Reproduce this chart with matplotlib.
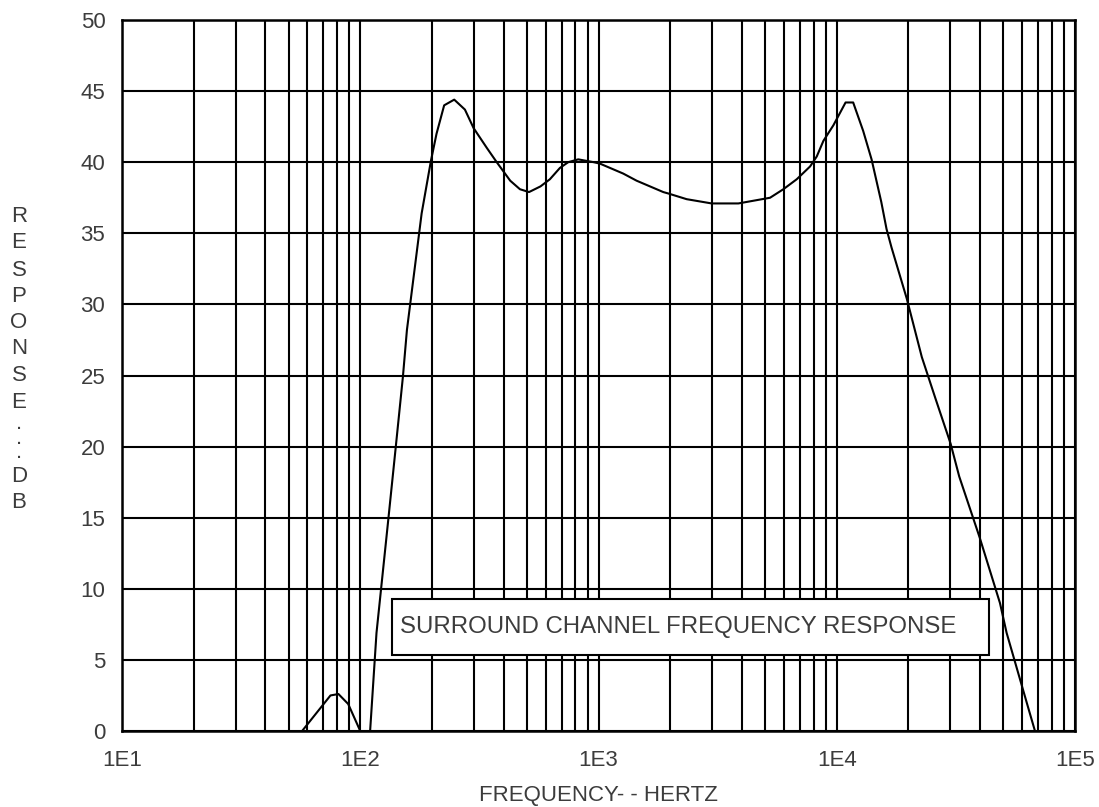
import numpy as np
import matplotlib.pyplot as plt
from matplotlib.patches import Rectangle
from matplotlib.ticker import FixedLocator, LogLocator, NullFormatter

# Frequency response (Hz, dB)
freq_hz = [57, 75, 81, 89, 100, 105, 110, 117, 131, 141, 151, 157, 181, 198,
           209, 225, 248, 275, 299, 340, 374, 426, 468, 511, 571, 625, 689,
           746, 822, 955, 1014, 1270, 1445, 1870, 1963, 2344, 2985, 3864,
           5248, 5970, 6792, 7727, 8241, 8790, 9683, 10890, 11720, 12910,
           14000, 15380, 16180, 16980, 19680, 22750, 25940, 30060, 32660,
           39810, 48420, 51640, 63970, 67920]
response_db = [0, 2.5, 2.6, 1.9, 0, -4, 0, 6.9, 14.8, 20.0, 24.9, 28.2, 36.4,
               40.1, 42.0, 44.0, 44.4, 43.7, 42.4, 41.0, 40.0, 38.7, 38.1,
               37.9, 38.3, 38.8, 39.6, 40.0, 40.2, 40.0, 39.9, 39.2, 38.7,
               37.9, 37.8, 37.4, 37.1, 37.1, 37.5, 38.1, 38.8, 39.7, 40.4,
               41.5, 42.6, 44.2, 44.2, 42.2, 40.2, 37.2, 35.3, 34.0, 30.4,
               26.3, 23.4, 20.2, 17.9, 13.6, 9.0, 6.9, 1.5, 0]

x_ticks = [1e1, 1e2, 1e3, 1e4, 1e5]
x_tick_labels = ['1E1', '1E2', '1E3', '1E4', '1E5']
y_ticks = [0, 5, 10, 15, 20, 25, 30, 35, 40, 45, 50]

ylabel_chars = ['R', 'E', 'S', 'P', 'O', 'N', 'S', 'E', '.\n.\n.', 'D', 'B']
ylabel_ypix = [217, 243, 270, 297, 323, 348, 375, 402, 438, 476, 502]

text_color = '#3c3c3c'
plt.rcParams['font.family'] = ['Liberation Sans', 'DejaVu Sans']

W, H = 1099, 807
fig = plt.figure(figsize=(W / 100, H / 100), dpi=100)
ax = fig.add_axes([122 / W, 1 - 731 / H, (1075 - 122) / W, (731 - 20) / H])

ax.plot(freq_hz, response_db, color='black', lw=1.5, zorder=3)

ax.set_xscale('log')
ax.set_xlim(1e1, 1e5)
ax.set_ylim(0, 50)

ax.xaxis.set_major_locator(FixedLocator(x_ticks))
ax.set_xticklabels(x_tick_labels)
ax.xaxis.set_minor_locator(LogLocator(base=10, subs=np.arange(2, 10)))
ax.xaxis.set_minor_formatter(NullFormatter())
ax.set_yticks(y_ticks)

ax.grid(True, which='both', axis='x', color='black', lw=1.5)
ax.grid(True, which='major', axis='y', color='black', lw=1.5)
ax.tick_params(which='both', length=0, labelsize=16, colors=text_color, pad=14)
ax.tick_params(axis='y', pad=12)
for s in ax.spines.values():
    s.set_linewidth(1.8)

ax.set_xlabel('FREQUENCY- - HERTZ', fontsize=16, color=text_color, labelpad=10)

for ch, yp in zip(ylabel_chars, ylabel_ypix):
    fig.text(19 / W, 1 - yp / H, ch, fontsize=16, color=text_color,
             ha='center', va='center', linespacing=0.6)

# caption box
ax.add_patch(Rectangle((0.2833, 0.1069), 0.6265, 0.0788, transform=ax.transAxes,
                       fc='white', ec='black', lw=1.5, zorder=4))
ax.text(0.2917, 0.1463, 'SURROUND CHANNEL FREQUENCY RESPONSE', transform=ax.transAxes,
        fontsize=17.3, color=text_color, ha='left', va='center', zorder=5)

fig.savefig('out.png', dpi=100)
